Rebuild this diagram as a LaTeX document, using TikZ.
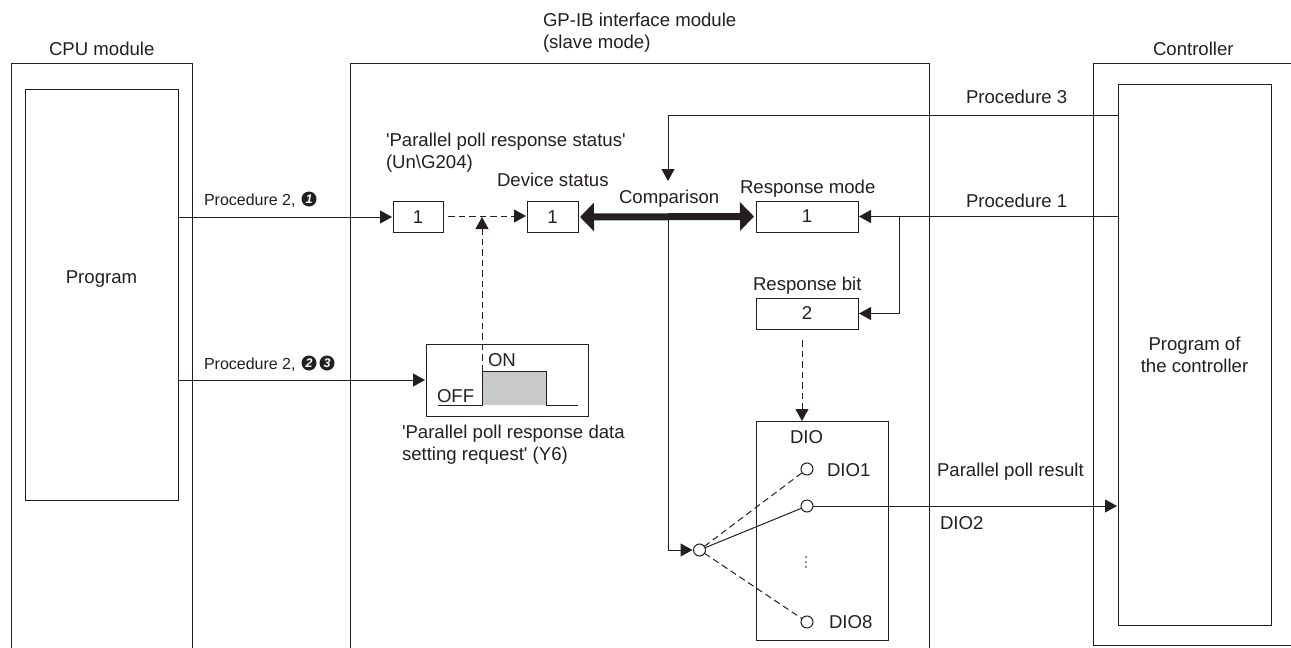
\documentclass[tikz,border=0pt]{standalone}
\usepackage{fontspec}
\setmainfont{Liberation Sans}
\usetikzlibrary{arrows.meta,calc}
\definecolor{ink}{HTML}{231F20}
\definecolor{wave}{HTML}{C8C9CA}
\tikzset{
  x=1pt,y=-1pt,
  ln/.style={draw=ink,line width=1pt},
  arr/.style={ln,-{Triangle[length=12pt,width=13pt]},shorten >=1pt},
  dsh/.style={arr,dash pattern=on 6.5pt off 4pt},
  dshp/.style={ln,dash pattern=on 6.5pt off 4pt},
  thick arrow/.style={draw=ink,line width=7pt,{Triangle[length=14pt,width=28pt]}-{Triangle[length=14pt,width=28pt]},shorten >=2pt,shorten <=2pt},
  lbl/.style={anchor=base west,inner sep=0pt,outer sep=0pt,text=ink,font=\fontsize{18.6}{22}\selectfont},
  lbs/.style={lbl,font=\fontsize{16}{19}\selectfont},
  valbox/.style={ln,rectangle,inner sep=0pt,outer sep=0pt,text=ink,font=\fontsize{18.6}{22}\selectfont,minimum height=31pt},
  bigbox/.style={ln,rectangle,inner sep=0pt,outer sep=0pt,text=ink,align=center,font=\fontsize{18.6}{22}\selectfont},
  term/.style={ln,circle,fill=white,inner sep=0pt,outer sep=0pt,minimum size=12pt},
  num/.style={circle,fill=ink,text=white,inner sep=0pt,outer sep=0pt,minimum size=15pt,font=\fontsize{12.5}{12.5}\selectfont\bfseries\itshape},
}
\begin{document}
\begin{tikzpicture}
\useasboundingbox (0,0) rectangle (1291,648);
% outer modules (open at the bottom / right)
\draw[ln] (11,648) -- (11,63.5) -- (192,63.5) -- (192,648);
\draw[ln] (350,648) -- (350,63.5) -- (929,63.5) -- (929,648);
\draw[ln] (1291,63.5) -- (1093,63.5) -- (1093,645) -- (1291,645);
% titles
\node[lbl] (tcpu) at (49,55) {CPU module};
\node[lbl] (tgp1) at (543,26) {GP-IB interface module};
\node[lbl] (tgp2) at (543,48) {(slave mode)};
\node[lbl] (tctl) at (1153,55) {Controller};
% big boxes
\node[bigbox,minimum width=153pt,minimum height=411pt] (prog) at (101.5,294.5) {};
\node[lbl,anchor=base] (progt) at (101.5,283) {Program};
\node[bigbox,minimum width=153pt,minimum height=541pt] (cprog) at (1194.5,354.5) {Program of\\the controller};
% value boxes
\node[valbox,minimum width=50pt] (b1) at (418,217) {1};
\node[valbox,minimum width=51pt] (b2) at (552.5,217) {1};
\node[valbox,minimum width=102pt] (rm) at (807,216.5) {1};
\node[valbox,minimum width=102pt] (rb) at (807,313.5) {2};
% DIO box
\node[bigbox,minimum width=132pt,minimum height=219pt] (dio) at (822,530.5) {};
% switch box
\node[bigbox,minimum width=162pt,minimum height=72pt] (swb) at (507,380) {};
\coordinate (w0) at (438,405);
\coordinate (w1) at (482,405);
\coordinate (w2) at (482,371);
\coordinate (w3) at (546,371);
\coordinate (w4) at (546,405);
\coordinate (w5) at (578,405);
\fill[wave] (w1) -- (w2) -- (w3) -- (w4) -- cycle;
\draw[ln] (w0) -- (w1) -- (w2) -- (w3) -- (w4) -- (w5);
\node[lbl] (on) at (488,366) {ON};
\node[lbl] (off) at (437,402) {OFF};
% terminals
\node[term] (sw) at (699.5,550) {};
\node[term] (d1) at (807,469) {};
\node[term] (d2) at (807,506) {};
\node[term] (d8) at (807,622) {};
% labels
\node[lbl] (l1) at (386,146) {\textquotesingle Parallel poll response status\textquotesingle};
\node[lbl] (l2) at (386,168) {(Un\textbackslash G204)};
\node[lbl] (l3) at (497,186) {Device status};
\node[lbl] (l4) at (619,203) {Comparison};
\node[lbl] (l5) at (740,193) {Response mode};
\node[lbl] (l6) at (753,290) {Response bit};
\node[lbl] (l7) at (966,103) {Procedure 3};
\node[lbl] (l8) at (966,207) {Procedure 1};
\node[lbl] (l9) at (402,438) {\textquotesingle Parallel poll response data};
\node[lbl] (l10) at (402,460) {setting request\textquotesingle{} (Y6)};
\node[lbl] (l11) at (790,443) {DIO};
\node[lbl] (l12) at (827,476) {DIO1};
\node[lbl] (l13) at (829,628) {DIO8};
\node[lbl] (l14) at (937,476) {Parallel poll result};
\node[lbl] (l15) at (940,529) {DIO2};
\node[lbs] (p1) at (204,205) {Procedure 2,};
\node[lbs] (p2) at (204,369) {Procedure 2,};
\node[num] (n1) at (309,199) {1};
\node[num] (n2) at (309,363) {2};
\node[num] (n3) at (327,363) {3};
% vertical ellipsis
\fill[ink] (806,557) circle (0.9) (806,562) circle (0.9) (806,567) circle (0.9);
% connectors
\draw[arr] (prog.east |- b1.west) -- (b1.west);
\draw[arr] (prog.east |- swb.west) -- (swb.west);
\coordinate (j) at (482,216);
\draw[dsh] ($(b1.east)+(5,-1)$) -- ($(b2.west)+(0,-1)$);
\draw[dsh,shorten >=0pt] (w2) -- ($(j)+(0,1)$);
\draw[thick arrow] (b2.east) -- (rm.west);
\coordinate (cmp) at (668,216);
\coordinate (cmpt) at (668,181);
\draw[arr] (cmp) -- (cmp |- sw) -- (sw.west);
\draw[arr,shorten >=0pt] (cprog.west |- 0,115.7) -- (cmpt |- 0,115.7) -- (cmpt);
\coordinate (br) at (899,216.5);
\draw[arr] (cprog.west |- rm.east) -- (rm.east);
\draw[ln,-{Triangle[length=12pt,width=13pt]},shorten >=1pt] (br) -- (br |- rb.east) -- (rb.east);
\coordinate (rbo) at (802,340);
\draw[dsh,shorten >=0pt] (rbo) -- (rbo |- dio.north);
\draw[dshp] (sw) -- (d1);
\draw[dshp] (sw) -- (d8);
\draw[ln] (sw) -- (d2);
\draw[arr] (d2) -- (cprog.west |- d2);
\end{tikzpicture}
\end{document}
